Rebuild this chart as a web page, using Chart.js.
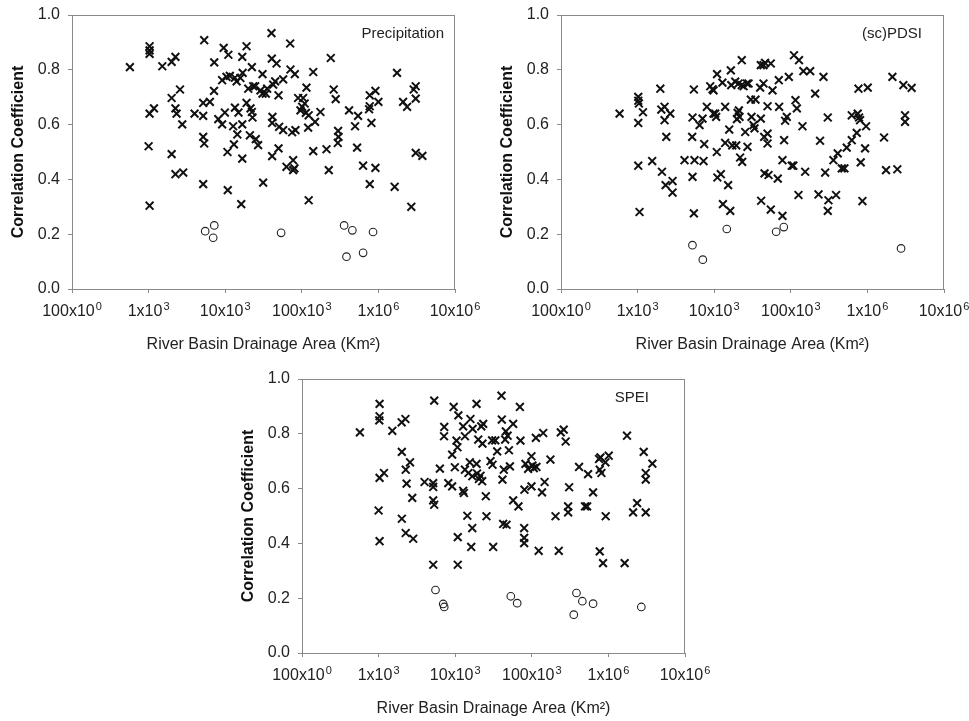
<!DOCTYPE html>
<html>
<head>
<meta charset="utf-8">
<script src="https://cdn.jsdelivr.net/npm/chart.js@4.4.0/dist/chart.umd.min.js"></script>
<style>
  body { margin: 0; background: #fff; width: 969px; height: 721px; position: relative; overflow: hidden; }
  .panel { position: absolute; width: 480px; height: 356px; }
</style>
</head>
<body>
<div class="panel" style="left:0px; top:0px;"><canvas id="precipChart" width="480" height="356"></canvas></div>
<div class="panel" style="left:489px; top:0px;"><canvas id="pdsiChart" width="480" height="356"></canvas></div>
<div class="panel" style="left:230px; top:364px;"><canvas id="speiChart" width="480" height="356"></canvas></div>
<script>
// axis ticks
const xTicks = [1e2, 1e3, 1e4, 1e5, 1e6, 1e7];
const xTickBase = ["100x10", "1x10", "10x10", "100x10", "1x10", "10x10"];
const xTickExp = ["0", "3", "3", "3", "6", "6"];
const yTicks = [0, 0.2, 0.4, 0.6, 0.8, 1.0];

// [drainage area km², correlation]  x = significant, o = not significant
const precipCross = [
  [570, 0.81], [1030, 0.886], [1030, 0.871], [1030, 0.858], [1030, 0.64], [1175, 0.659],
  [1000, 0.521], [1030, 0.304], [1510, 0.813], [2000, 0.829], [2240, 0.847], [2000, 0.697],
  [2240, 0.659], [2320, 0.64], [2570, 0.728], [2750, 0.601], [2000, 0.492], [2240, 0.419],
  [2830, 0.425], [3980, 0.64], [5160, 0.679], [5160, 0.632], [5320, 0.908], [5160, 0.555],
  [5320, 0.531], [5160, 0.383], [6310, 0.683], [7190, 0.827], [7150, 0.723], [8130, 0.62],
  [9120, 0.601], [9120, 0.762], [9550, 0.88], [9900, 0.644], [11000, 0.855], [10400, 0.774],
  [11500, 0.778], [10700, 0.5], [10800, 0.361], [12700, 0.594], [13400, 0.771], [13000, 0.528],
  [13400, 0.662], [14100, 0.758], [14400, 0.564], [14900, 0.644], [15800, 0.77], [16700, 0.847],
  [16700, 0.601], [16900, 0.789], [16700, 0.476], [16200, 0.31], [19000, 0.886], [19000, 0.679],
  [20000, 0.731], [21000, 0.561], [21400, 0.659], [22300, 0.81], [22300, 0.646], [22700, 0.626],
  [23200, 0.74], [24600, 0.74], [25100, 0.547], [26900, 0.525], [28900, 0.725], [30700, 0.784],
  [30700, 0.713], [31300, 0.388], [33900, 0.713], [35300, 0.731], [40200, 0.934], [40600, 0.841],
  [41400, 0.628], [42300, 0.746], [41000, 0.485], [41000, 0.606], [46800, 0.823], [44900, 0.758],
  [49700, 0.707], [49700, 0.513], [50600, 0.592], [57100, 0.765], [57100, 0.58], [63100, 0.446],
  [70500, 0.896], [71100, 0.801], [81100, 0.784], [74800, 0.572], [77100, 0.47], [77100, 0.434],
  [80200, 0.44], [82600, 0.58], [89500, 0.697], [96100, 0.652], [104000, 0.697], [101000, 0.665],
  [109000, 0.677], [115000, 0.735], [113000, 0.643], [123000, 0.634], [121000, 0.589], [123000, 0.324],
  [141000, 0.792], [141000, 0.503], [149000, 0.61], [175000, 0.646], [210000, 0.51], [225000, 0.434],
  [239000, 0.843], [261000, 0.728], [277000, 0.693], [298000, 0.577], [301000, 0.555], [295000, 0.533],
  [414000, 0.652], [496000, 0.594], [543000, 0.632], [527000, 0.516], [631000, 0.45], [755000, 0.656],
  [771000, 0.667], [771000, 0.707], [771000, 0.383], [811000, 0.606], [914000, 0.723], [914000, 0.442],
  [1000000, 0.683], [1630000, 0.373], [1750000, 0.789], [2100000, 0.683], [2370000, 0.665],
  [2690000, 0.3], [2890000, 0.728], [3070000, 0.74], [3070000, 0.695], [3070000, 0.497], [3750000, 0.486]
];
const precipCircle = [
  [5480, 0.211], [7200, 0.232], [6970, 0.187], [53700, 0.205], [357000, 0.232],
  [383000, 0.118], [457000, 0.214], [631000, 0.132], [851000, 0.208]
];

const pdsiCross = [
  [582, 0.64], [1020, 0.701], [1020, 0.687], [1040, 0.677], [1020, 0.606], [1020, 0.45], [1060, 0.281],
  [1175, 0.645], [1550, 0.467], [1980, 0.731], [2040, 0.655], [2080, 0.428], [2250, 0.665], [2250, 0.616],
  [2320, 0.379], [2370, 0.555], [2670, 0.64], [2860, 0.394], [2860, 0.352], [4100, 0.47], [5430, 0.728],
  [5210, 0.626], [5160, 0.555], [5210, 0.409], [5430, 0.276], [5530, 0.47], [6440, 0.598], [7040, 0.622],
  [7260, 0.467], [7410, 0.529], [8020, 0.665], [8870, 0.74], [9510, 0.729], [9800, 0.64], [9800, 0.725],
  [10300, 0.64], [10600, 0.628], [10800, 0.5], [10900, 0.784], [11000, 0.407], [12200, 0.419],
  [12800, 0.753], [13900, 0.665], [13900, 0.533], [13000, 0.31], [15200, 0.379], [15700, 0.582],
  [16200, 0.285], [16500, 0.798], [16700, 0.744], [17200, 0.524], [18800, 0.757], [19400, 0.524],
  [19800, 0.62], [20200, 0.643], [20800, 0.75], [21000, 0.652], [21400, 0.628], [21800, 0.48],
  [22900, 0.835], [22900, 0.744], [23200, 0.464], [24200, 0.74], [25400, 0.573], [26700, 0.75],
  [27200, 0.519], [28100, 0.75], [30100, 0.691], [30700, 0.628], [32600, 0.598], [33600, 0.586],
  [34600, 0.691], [39800, 0.735], [40600, 0.622], [40600, 0.817], [41000, 0.322], [44000, 0.817],
  [44000, 0.75], [46200, 0.825], [44900, 0.555], [45400, 0.422], [49700, 0.667], [49700, 0.567],
  [49700, 0.531], [51200, 0.416], [54800, 0.823], [54800, 0.29], [57700, 0.725], [69700, 0.762],
  [70400, 0.665], [67600, 0.403], [77800, 0.267], [77800, 0.47], [81800, 0.543], [84300, 0.614],
  [88700, 0.628], [94200, 0.774], [103000, 0.45], [108000, 0.45], [110000, 0.853], [115000, 0.689],
  [120000, 0.659], [128000, 0.835], [126000, 0.343], [142000, 0.594], [146000, 0.795], [154000, 0.428],
  [179000, 0.795], [208000, 0.713], [230000, 0.345], [241000, 0.541], [267000, 0.774], [281000, 0.425],
  [304000, 0.626], [304000, 0.285], [310000, 0.324], [360000, 0.47], [390000, 0.343], [410000, 0.495],
  [463000, 0.44], [501000, 0.44], [537000, 0.516], [625000, 0.634], [625000, 0.543], [726000, 0.57],
  [748000, 0.64], [764000, 0.731], [778000, 0.626], [802000, 0.616], [818000, 0.462], [861000, 0.321],
  [933000, 0.513], [961000, 0.594], [1010000, 0.735], [1650000, 0.553], [1750000, 0.434],
  [2120000, 0.774], [2460000, 0.437], [2950000, 0.744], [3100000, 0.634], [3100000, 0.61], [3780000, 0.734]
];
const pdsiCircle = [
  [5200, 0.16], [7100, 0.107], [14600, 0.219], [64400, 0.209], [81000, 0.226], [2750000, 0.148]
];

const speiCross = [
  [570, 0.805], [1030, 0.909], [1030, 0.864], [1020, 0.849], [1030, 0.639], [1030, 0.408], [1175, 0.657],
  [1000, 0.52], [1510, 0.811], [2000, 0.842], [2010, 0.734], [2240, 0.854], [2260, 0.669], [2320, 0.618],
  [2570, 0.696], [2750, 0.566], [2010, 0.49], [2260, 0.438], [2830, 0.417], [3980, 0.624], [5160, 0.62],
  [5160, 0.606], [5160, 0.557], [5160, 0.322], [5320, 0.921], [5320, 0.541], [6310, 0.673], [7190, 0.825],
  [7150, 0.791], [8130, 0.62], [9120, 0.608], [9120, 0.724], [9550, 0.898], [9900, 0.678], [11000, 0.867],
  [10400, 0.775], [10700, 0.751], [10800, 0.423], [10800, 0.322], [12700, 0.592], [12700, 0.827],
  [13400, 0.791], [13400, 0.669], [13000, 0.584], [14400, 0.501], [14900, 0.657], [15500, 0.696],
  [15800, 0.854], [16700, 0.645], [16700, 0.456], [16900, 0.818], [16200, 0.387], [19000, 0.909],
  [19000, 0.69], [19300, 0.655], [20000, 0.779], [20400, 0.635], [21400, 0.647], [21900, 0.827],
  [22500, 0.627], [22700, 0.764], [23200, 0.836], [25100, 0.572], [25600, 0.499], [28900, 0.7],
  [30300, 0.776], [31300, 0.387], [30700, 0.687], [33400, 0.776], [35300, 0.736], [40200, 0.939],
  [40600, 0.852], [41400, 0.633], [42300, 0.471], [43100, 0.669], [44900, 0.779], [45800, 0.809],
  [46800, 0.468], [48300, 0.793], [50300, 0.74], [51800, 0.681], [57100, 0.836], [57100, 0.557],
  [67000, 0.535], [69900, 0.898], [71100, 0.775], [79500, 0.456], [79500, 0.42], [79500, 0.401],
  [80200, 0.596], [82600, 0.69], [89500, 0.672], [99000, 0.718], [99000, 0.608], [102000, 0.684],
  [106000, 0.675], [113000, 0.785], [115000, 0.679], [123000, 0.373], [136000, 0.586], [141000, 0.803],
  [147000, 0.624], [175000, 0.706], [204000, 0.499], [225000, 0.373], [239000, 0.805], [261000, 0.815],
  [277000, 0.772], [298000, 0.535], [298000, 0.513], [307000, 0.605], [414000, 0.679], [496000, 0.535],
  [543000, 0.653], [527000, 0.535], [631000, 0.586], [755000, 0.708], [771000, 0.669], [771000, 0.371],
  [787000, 0.714], [811000, 0.657], [851000, 0.328], [914000, 0.696], [922000, 0.499], [1010000, 0.72],
  [1630000, 0.328], [1750000, 0.793], [2100000, 0.513], [2370000, 0.547], [2890000, 0.734],
  [3070000, 0.657], [3070000, 0.633], [3070000, 0.513], [3750000, 0.691]
];
const speiCircle = [
  [5530, 0.23], [6970, 0.179], [7190, 0.168], [53200, 0.207], [64400, 0.182],
  [353000, 0.14], [383000, 0.219], [457000, 0.189], [631000, 0.18], [2690000, 0.168]
];

const axisGray = "#8a8a8a";
const fontFam = "'Liberation Sans', Arial, sans-serif";

// frame around the plot area, panel name, and x tick labels with superscript exponents
const panelPlugin = {
  id: "panel",
  beforeDatasetsDraw(chart, args, opts) {
    const { ctx, chartArea: a } = chart;
    ctx.save();
    ctx.strokeStyle = axisGray;
    ctx.lineWidth = 1;
    ctx.strokeRect(a.left + 0.5, a.top + 0.5, a.right - a.left - 1, a.bottom - a.top);
    ctx.fillStyle = "#222";
    ctx.font = "15px " + fontFam;
    ctx.textAlign = "right";
    ctx.textBaseline = "middle";
    ctx.fillText(opts.text, a.right - opts.dx, a.top + 19);

    const xs = chart.scales.x;
    ctx.textAlign = "left";
    ctx.textBaseline = "alphabetic";
    xTicks.forEach((v, i) => {
      const px = xs.getPixelForValue(v);
      ctx.font = "16px " + fontFam;
      const wb = ctx.measureText(xTickBase[i]).width;
      ctx.font = "11px " + fontFam;
      const we = ctx.measureText(xTickExp[i]).width;
      const x0 = px - (wb + we + 1) / 2;
      ctx.font = "16px " + fontFam;
      ctx.fillText(xTickBase[i], x0, a.bottom + 27);
      ctx.font = "11px " + fontFam;
      ctx.fillText(xTickExp[i], x0 + wb + 1, a.bottom + 21);
    });
    ctx.restore();
  }
};

function toPoints(arr) {
  return arr.map(p => ({ x: p[0], y: p[1] }));
}

function makeChart(id, name, dx, cross, circle) {
  new Chart(document.getElementById(id), {
    type: "scatter",
    data: {
      datasets: [
        {
          data: toPoints(cross),
          pointStyle: "crossRot",
          pointRadius: 5.5,
          pointBorderWidth: 2,
          borderColor: "#111",
          backgroundColor: "#111"
        },
        {
          data: toPoints(circle),
          pointStyle: "circle",
          pointRadius: 3.8,
          pointBorderWidth: 1.1,
          borderColor: "#222",
          backgroundColor: "rgba(255,255,255,0)"
        }
      ]
    },
    options: {
      responsive: false,
      animation: false,
      devicePixelRatio: 1,
      layout: { padding: { top: 15, right: 25, left: 0, bottom: 0 } },
      plugins: {
        legend: { display: false },
        tooltip: { enabled: false },
        panel: { text: name, dx: dx }
      },
      scales: {
        x: {
          type: "logarithmic",
          min: 1e2,
          max: 1e7,
          afterBuildTicks: s => { s.ticks = xTicks.map(v => ({ value: v })); },
          afterFit: s => { s.height = 67; },
          grid: { display: true, drawOnChartArea: false, drawTicks: true, tickLength: 4, color: axisGray },
          border: { display: true, color: axisGray },
          ticks: { display: false },
          title: {
            display: true,
            text: "River Basin Drainage Area (Km²)",
            color: "#222",
            padding: { top: 0, bottom: 2 },
            font: { family: fontFam, size: 16 }
          }
        },
        y: {
          min: 0,
          max: 1,
          afterBuildTicks: s => { s.ticks = yTicks.map(v => ({ value: v })); },
          afterFit: s => { s.width = 72; s.paddingTop = 0; s.paddingBottom = 0; },
          grid: { display: true, drawOnChartArea: false, drawTicks: true, tickLength: 4, color: axisGray },
          border: { display: true, color: axisGray },
          ticks: {
            padding: 8,
            color: "#222",
            font: { family: fontFam, size: 16 },
            callback: v => v.toFixed(1)
          },
          title: {
            display: true,
            text: "Correlation Coefficient",
            color: "#111",
            padding: { top: 9, bottom: 0 },
            font: { family: fontFam, size: 16, weight: "bold" }
          }
        }
      }
    },
    plugins: [panelPlugin]
  });
}

makeChart("precipChart", "Precipitation", 11, precipCross, precipCircle);
makeChart("pdsiChart", "(sc)PDSI", 22, pdsiCross, pdsiCircle);
makeChart("speiChart", "SPEI", 36, speiCross, speiCircle);
</script>
</body>
</html>
